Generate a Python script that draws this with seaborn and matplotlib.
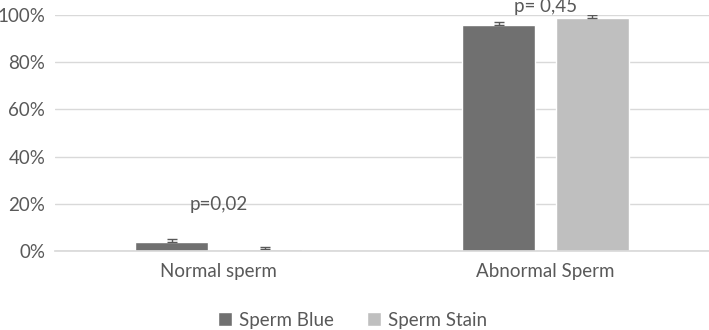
import pandas as pd
import matplotlib
matplotlib.use('Agg')
import matplotlib.pyplot as plt
import seaborn as sns
import numpy as np
from matplotlib.ticker import PercentFormatter

# data (percent)
categories = ['Normal sperm', 'Abnormal Sperm']
groups = ['Sperm Blue', 'Sperm Stain']
blue_vals = [3.9, 95.9]
stain_vals = [1.0, 98.8]
blue_err = [1.2, 1.2]
stain_err = [0.9, 1.2]
p_labels = ['p=0,02', 'p= 0,45']
p_heights = [19.5, 103.5]

sns.set_theme(style='white')
plt.rcParams['font.family'] = ['Lato', 'DejaVu Sans']
txt_col = '#595959'
fs = 13.5

df = pd.DataFrame({
    'cat': categories * 2,
    'grp': [groups[0]] * 2 + [groups[1]] * 2,
    'val': blue_vals + stain_vals,
})
err = blue_err + stain_err

fig = plt.figure(figsize=(7.09, 3.30), dpi=100)
ax = fig.add_axes([55 / 709, 1 - 251 / 330, 654 / 709, (251 - 15) / 330])

sns.barplot(data=df, x='cat', y='val', hue='grp', order=categories, hue_order=groups,
            palette=['#707070', '#bfbfbf'], width=0.57, gap=0.215, ax=ax,
            errorbar=None, saturation=1)

# plus-only error bars on top of each bar
for i, bar in enumerate(ax.patches[:4]):
    xc = bar.get_x() + bar.get_width() / 2
    h = bar.get_height()
    ax.errorbar(xc, h, yerr=[[0], [err[i]]], fmt='none', ecolor='#595959',
                elinewidth=1, capsize=3.5, capthick=1)

for i, lab in enumerate(p_labels):
    ax.text(i, p_heights[i], lab, ha='center', va='center', fontsize=fs,
            color=txt_col, clip_on=False)

ax.set_ylim(0, 100)
ax.set_xlim(-0.5, 1.5)
ax.set_yticks(np.arange(0, 101, 20))
ax.yaxis.set_major_formatter(PercentFormatter(decimals=0))
ax.grid(axis='y', color='#d9d9d9', linewidth=1)
ax.set_axisbelow(True)
for s in ['top', 'right', 'left']:
    ax.spines[s].set_visible(False)
ax.spines['bottom'].set_color('#d9d9d9')
ax.set_xlabel('')
ax.set_ylabel('')
ax.tick_params(axis='both', length=0, labelsize=fs, labelcolor=txt_col)
ax.tick_params(axis='x', pad=9)
ax.tick_params(axis='y', pad=7)

leg = ax.legend(loc='lower center', bbox_to_anchor=(0.455, -0.40), ncol=2, frameon=False,
                fontsize=fs, handlelength=0.75, handleheight=0.75, handletextpad=0.35,
                columnspacing=1.8)
for t in leg.get_texts():
    t.set_color(txt_col)

fig.savefig('out.png', dpi=100)
